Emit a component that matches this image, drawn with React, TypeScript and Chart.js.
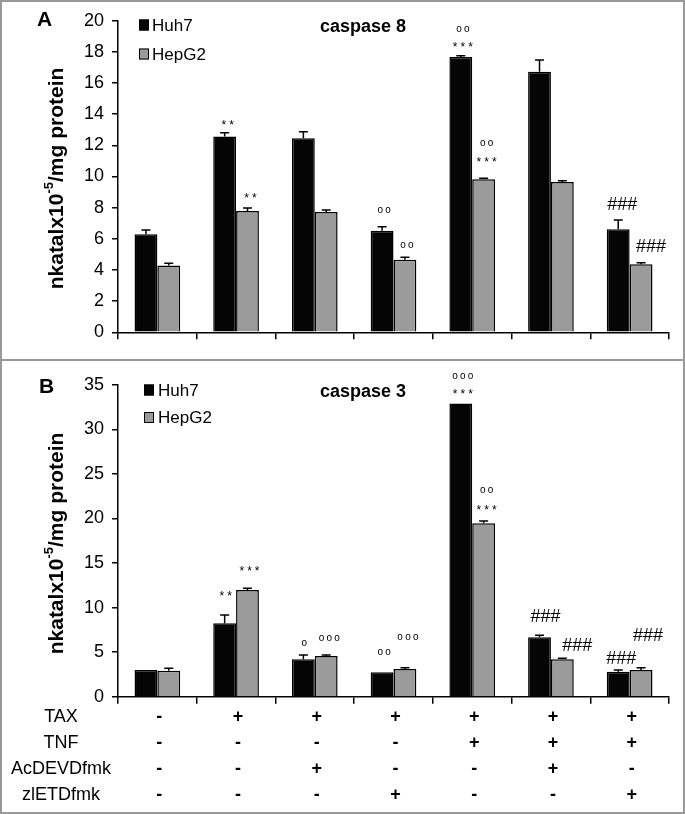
import React, { useEffect, useRef } from "react";
import { Chart, registerables } from "chart.js";

Chart.register(...registerables);

const FONT = "'Liberation Sans', Arial, Helvetica, sans-serif";

// ---------- data ----------
const conditions = ["1", "2", "3", "4", "5", "6", "7"];
const seriesNames = ["Huh7", "HepG2"];

const casp8Huh7 = [6.29, 12.56, 12.45, 6.52, 17.67, 16.73, 6.61];
const casp8Huh7Err = [0.28, 0.25, 0.43, 0.26, 0.08, 0.75, 0.6];
const casp8HepG2 = [4.28, 7.79, 7.72, 4.66, 9.82, 9.65, 4.36];
const casp8HepG2Err = [0.15, 0.19, 0.13, 0.15, 0.06, 0.08, 0.11];

const casp3Huh7 = [3.0, 8.23, 4.19, 2.73, 32.9, 6.66, 2.81];
const casp3Huh7Err = [0, 0.94, 0.49, 0, 0, 0.22, 0.18];
const casp3HepG2 = [2.92, 11.97, 4.56, 3.1, 19.45, 4.19, 2.99];
const casp3HepG2Err = [0.26, 0.19, 0.12, 0.15, 0.27, 0.11, 0.26];

const casp8Huh7Marks = [[], ["**"], [], ["oo"], ["oo", "***"], [], ["###"]];
const casp8HepG2Marks = [[], ["**"], [], ["oo"], ["oo", "***"], [], ["###"]];
const casp3Huh7Marks = [[], ["**"], ["o"], ["oo"], ["ooo", "***"], ["###"], ["###"]];
const casp3HepG2Marks = [[], ["***"], ["ooo"], ["ooo"], ["oo", "***"], ["###"], ["###"]];

const treatmentNames = ["TAX", "TNF", "AcDEVDfmk", "zlETDfmk"];
const taxRow = ["-", "+", "+", "+", "+", "+", "+"];
const tnfRow = ["-", "-", "-", "-", "+", "+", "+"];
const acdevdRow = ["-", "-", "+", "-", "-", "+", "-"];
const zletdRow = ["-", "-", "-", "+", "-", "-", "+"];

const yMaxA = 20;
const yStepA = 2;
const yMaxB = 35;
const yStepB = 5;

// ---------- styling / layout ----------
const barColors = ["#050505", "#9b9b9b"];

type MarkPlace = { lift: number[]; gap: number[]; dx: number[] };

type PanelCfg = {
  top: number;
  height: number;
  padTop: number;
  xAxisHeight: number;
  yMax: number;
  yStep: number;
  values: number[][];
  errors: number[][];
  marks: string[][][];
  place: MarkPlace[];
  letter: string;
  letterPos: [number, number];
  title: string;
  titlePos: [number, number];
  legendX: number;
  legendTextX: number;
  legendYs: number[];
  yTitleCenter: [number, number];
  table?: boolean;
};

function drawMarkLine(ctx: CanvasRenderingContext2D, text: string, cx: number, cy: number) {
  let size = 18;
  let spacing = 0;
  let k = 0.36;
  if (text[0] === "*") {
    size = 12;
    spacing = 3;
    k = 0.57;
  } else if (text[0] === "o") {
    size = 10;
    spacing = 2.2;
    k = 0.26;
  }
  ctx.font = `${size}px ${FONT}`;
  ctx.textAlign = "left";
  ctx.textBaseline = "alphabetic";
  const chars = text.split("");
  const widths = chars.map((c) => ctx.measureText(c).width);
  const total = widths.reduce((a, b) => a + b, 0) + spacing * (chars.length - 1);
  let x = cx - total / 2;
  chars.forEach((c, i) => {
    ctx.fillText(c, x, cy + k * size);
    x += widths[i] + spacing;
  });
}

function makeDecor(cfg: PanelCfg) {
  return {
    id: "panelDecor",
    afterDatasetsDraw(chart: any) {
      const ctx: CanvasRenderingContext2D = chart.ctx;
      const yScale = chart.scales.y;
      ctx.save();
      ctx.fillStyle = "#000";
      ctx.strokeStyle = "#000";
      chart.data.datasets.forEach((ds: any, di: number) => {
        const meta = chart.getDatasetMeta(di);
        meta.data.forEach((bar: any, i: number) => {
          const v = ds.data[i] as number;
          const e = cfg.errors[di][i];
          const x = bar.x;
          const yTop = yScale.getPixelForValue(v);
          const yErr = yScale.getPixelForValue(v + e);
          if (e > 0) {
            ctx.lineWidth = 1.5;
            ctx.beginPath();
            ctx.moveTo(x, yTop);
            ctx.lineTo(x, yErr);
            ctx.moveTo(x - 4.5, yErr);
            ctx.lineTo(x + 4.5, yErr);
            ctx.stroke();
          }
          const lines = cfg.marks[di][i];
          if (lines && lines.length) {
            const pl = cfg.place[di];
            const base = yErr - pl.lift[i];
            const n = lines.length;
            lines.forEach((t, li) => {
              const cy = base - (n - 1 - li) * pl.gap[i];
              drawMarkLine(ctx, t, x + pl.dx[i], cy);
            });
          }
        });
      });
      ctx.restore();
    },
    afterDraw(chart: any) {
      const ctx: CanvasRenderingContext2D = chart.ctx;
      const area = chart.chartArea;
      ctx.save();
      ctx.fillStyle = "#000";
      // panel letter
      ctx.font = `bold 21px ${FONT}`;
      ctx.textAlign = "center";
      ctx.textBaseline = "middle";
      ctx.fillText(cfg.letter, cfg.letterPos[0], cfg.letterPos[1]);
      // title
      ctx.font = `bold 18px ${FONT}`;
      ctx.fillText(cfg.title, cfg.titlePos[0], cfg.titlePos[1]);
      // legend
      seriesNames.forEach((name, i) => {
        const y = cfg.legendYs[i];
        ctx.fillStyle = barColors[i];
        ctx.fillRect(cfg.legendX, y - 5.5, 10, 11);
        ctx.strokeStyle = "#000";
        ctx.lineWidth = 1;
        ctx.strokeRect(cfg.legendX + 0.5, y - 5, 9, 10);
        ctx.fillStyle = "#000";
        ctx.font = `17px ${FONT}`;
        ctx.textAlign = "left";
        ctx.textBaseline = "middle";
        ctx.fillText(name, cfg.legendTextX, y + 1);
      });
      // y axis title with superscript
      const [cx, cy] = cfg.yTitleCenter;
      ctx.translate(cx, cy);
      ctx.rotate(-Math.PI / 2);
      const big = `bold 21px ${FONT}`;
      const small = `bold 13px ${FONT}`;
      const p1 = "nkatalx10";
      const p2 = "-5";
      const p3 = "/mg protein";
      ctx.font = big;
      const w1 = ctx.measureText(p1).width;
      const w3 = ctx.measureText(p3).width;
      ctx.font = small;
      const w2 = ctx.measureText(p2).width;
      const total = w1 + w2 + w3;
      let x = -total / 2;
      ctx.textAlign = "left";
      ctx.textBaseline = "alphabetic";
      ctx.font = big;
      ctx.fillText(p1, x, 7);
      x += w1;
      ctx.font = small;
      ctx.fillText(p2, x, -3.5);
      x += w2;
      ctx.font = big;
      ctx.fillText(p3, x, 7);
      ctx.setTransform(1, 0, 0, 1, 0, 0);
      // treatment table
      if (cfg.table) {
        const xScale = chart.scales.x;
        const rows = [taxRow, tnfRow, acdevdRow, zletdRow];
        rows.forEach((row, r) => {
          const y = area.bottom + 20.5 + r * 26;
          ctx.font = `18px ${FONT}`;
          ctx.textAlign = "center";
          ctx.textBaseline = "middle";
          ctx.fillText(treatmentNames[r], 61, y);
          ctx.font = `bold 18px ${FONT}`;
          row.forEach((s, i) => {
            ctx.fillText(s, xScale.getPixelForValue(i) + 2, y);
          });
        });
      }
      ctx.restore();
    },
  };
}

function Panel({ cfg }: { cfg: PanelCfg }) {
  const ref = useRef<HTMLCanvasElement>(null);
  useEffect(() => {
    const chart = new Chart(ref.current as HTMLCanvasElement, {
      type: "bar",
      data: {
        labels: conditions,
        datasets: seriesNames.map((name, i) => ({
          label: name,
          data: cfg.values[i],
          backgroundColor: barColors[i],
          borderColor: "#000",
          borderWidth: 1.5,
          categoryPercentage: 0.58,
          barPercentage: 1.0,
        })),
      },
      options: {
        responsive: false,
        animation: false,
        events: [],
        devicePixelRatio: 1,
        layout: { padding: { top: cfg.padTop, right: 16, left: 0, bottom: 0 } },
        plugins: {
          legend: { display: false },
          tooltip: { enabled: false },
          title: { display: false },
        },
        scales: {
          x: {
            grid: {
              offset: true,
              drawOnChartArea: false,
              drawTicks: true,
              tickLength: 7,
              color: "#000",
              lineWidth: 1.5,
            },
            border: { display: true, color: "#000", width: 1.5 },
            ticks: { display: false },
            afterFit: (s: any) => {
              s.height = cfg.xAxisHeight;
            },
          },
          y: {
            min: 0,
            max: cfg.yMax,
            ticks: {
              stepSize: cfg.yStep,
              font: { family: FONT, size: 18 },
              color: "#000",
              padding: 8,
            },
            grid: {
              drawOnChartArea: false,
              drawTicks: true,
              tickLength: 6,
              color: "#000",
              lineWidth: 1.5,
            },
            border: { display: true, color: "#000", width: 1.5 },
            afterFit: (s: any) => {
              s.width = 118;
            },
          },
        },
      },
      plugins: [makeDecor(cfg)],
    } as any);
    return () => chart.destroy();
  }, [cfg]);
  return (
    <canvas
      ref={ref}
      width={685}
      height={cfg.height}
      style={{ position: "absolute", left: 0, top: cfg.top, width: 685, height: cfg.height }}
    />
  );
}

const panelA: PanelCfg = {
  top: 0,
  height: 360,
  padTop: 20.7,
  xAxisHeight: 27.7,
  yMax: yMaxA,
  yStep: yStepA,
  values: [casp8Huh7, casp8HepG2],
  errors: [casp8Huh7Err, casp8HepG2Err],
  marks: [casp8Huh7Marks, casp8HepG2Marks],
  place: [
    { lift: [0, 11, 0, 16, 12, 0, 16], gap: [0, 0, 0, 0, 14, 0, 0], dx: [0, 3, 0, 2, 2, 0, 4] },
    { lift: [0, 13, 0, 12, 19, 0, 17], gap: [0, 0, 0, 0, 16, 0, 0], dx: [0, 3, 0, 2, 3, 0, 10] },
  ],
  letter: "A",
  letterPos: [44.5, 20.5],
  title: "caspase 8",
  titlePos: [363, 27],
  legendX: 139,
  legendTextX: 152,
  legendYs: [25, 54],
  yTitleCenter: [56, 178.5],
};

const panelB: PanelCfg = {
  top: 360,
  height: 454,
  padTop: 24.7,
  xAxisHeight: 117.3,
  yMax: yMaxB,
  yStep: yStepB,
  values: [casp3Huh7, casp3HepG2],
  errors: [casp3Huh7Err, casp3HepG2Err],
  marks: [casp3Huh7Marks, casp3HepG2Marks],
  place: [
    { lift: [0, 22, 12, 20, 12, 20, 13], gap: [0, 0, 0, 0, 15, 0, 0], dx: [0, 1, 1, 2, 2, 6, 3] },
    { lift: [0, 20, 17, 30, 14, 14, 33], gap: [0, 0, 0, 0, 17, 0, 0], dx: [0, 2, 3, 3, 3, 15, 7] },
  ],
  letter: "B",
  letterPos: [46.5, 27.5],
  title: "caspase 3",
  titlePos: [363, 32],
  legendX: 144,
  legendTextX: 158,
  legendYs: [30, 57.5],
  yTitleCenter: [56, 183.5],
  table: true,
};

export default function App() {
  return (
    <div
      style={{
        position: "absolute",
        left: 0,
        top: 0,
        width: 685,
        height: 814,
        background: "#fff",
        overflow: "hidden",
      }}
    >
      <Panel cfg={panelA} />
      <Panel cfg={panelB} />
      <div
        style={{
          position: "absolute",
          left: 0,
          top: 359,
          width: 685,
          height: 2,
          background: "#999",
        }}
      />
      <div
        style={{
          position: "absolute",
          left: 0,
          top: 0,
          width: 685,
          height: 814,
          boxSizing: "border-box",
          border: "2px solid #999",
          pointerEvents: "none",
        }}
      />
    </div>
  );
}
